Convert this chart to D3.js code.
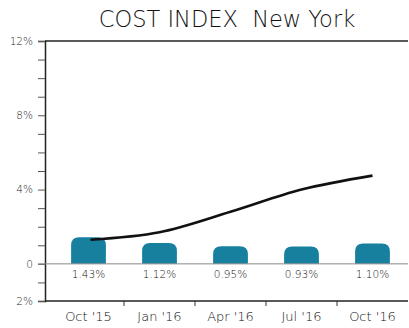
<!DOCTYPE html>
<html>
<head>
<meta charset="utf-8">
<script src="https://cdn.jsdelivr.net/npm/d3@7"></script>
<style>
  html, body { margin: 0; padding: 0; background: #fff; }
  svg { display: block; font-family: "DejaVu Sans", "Open Sans", sans-serif; }
  text { white-space: pre; }
</style>
</head>
<body>
<svg id="chart" width="409" height="328"></svg>
<script>
// Quarterly cost index for New York
const quarters = ["Oct '15", "Jan '16", "Apr '16", "Jul '16", "Oct '16"];
const quarterlyChange = [1.43, 1.12, 0.95, 0.93, 1.10];   // bars, %
const cumulativeIndex = [1.3, 1.7, 2.8, 4.0, 4.75];       // line, %
const yTickValues = [12, 8, 4, 0, -2];
const yTickLabels = ["12%", "8%", "4%", "0", "2%"];

const svg = d3.select("#chart");
const plotLeft = 45, plotRight = 408, plotTop = 41, plotBottom = 301;

const y = d3.scaleLinear().domain([-2, 12]).range([plotBottom, plotTop]);
const x = d3.scaleBand().domain(quarters).range([53, 408]).padding(0);
const barW = x.bandwidth() * 0.49;

// title
svg.append("text")
  .attr("x", 227).attr("y", 27)
  .attr("text-anchor", "middle")
  .attr("font-size", 22.5)
  .attr("font-weight", 200)
  .attr("fill", "#111")
  .text("COST INDEX  New York");

// top rule
svg.append("line").attr("x1", plotLeft).attr("x2", plotRight).attr("y1", y(12)).attr("y2", y(12))
  .attr("stroke", "#222").attr("stroke-width", 1.5);

// left axis with minor ticks every 1%
const yAxis = d3.axisLeft(y).tickValues(d3.range(-2, 13, 1)).tickSize(7).tickFormat("");
const ya = svg.append("g").attr("transform", `translate(${plotLeft},0)`).call(yAxis);
ya.select(".domain").attr("stroke", "#222").attr("stroke-width", 1.5);
ya.selectAll(".tick line").attr("stroke", "#555").attr("stroke-width", 1);

// y labels
svg.append("g").selectAll("text").data(yTickValues).join("text")
  .attr("x", 33).attr("y", d => y(d) + 3.8)
  .attr("text-anchor", "end")
  .attr("font-size", 10.5)
  .attr("font-weight", 200)
  .attr("fill", "#222")
  .text((d, i) => yTickLabels[i]);

// bottom axis with ticks between quarters
const xa = svg.append("g").attr("transform", `translate(0,${plotBottom})`);
xa.append("line").attr("x1", plotLeft).attr("x2", plotRight).attr("stroke", "#222").attr("stroke-width", 1.5);
xa.selectAll(".sep").data(quarters.slice(1)).join("line")
  .attr("class", "sep")
  .attr("x1", d => x(d)).attr("x2", d => x(d))
  .attr("y1", 0).attr("y2", 5)
  .attr("stroke", "#333");
xa.selectAll(".lbl").data(quarters).join("text")
  .attr("class", "lbl")
  .attr("x", d => x(d) + x.bandwidth() / 2)
  .attr("y", 20)
  .attr("text-anchor", "middle")
  .attr("font-size", 13)
  .attr("font-weight", 200)
  .attr("fill", "#111")
  .text(d => d);

// bars with rounded tops
const r = 8;
function barPath(d, i) {
  const cx = x(quarters[i]) + x.bandwidth() / 2;
  const x0 = cx - barW / 2, x1 = cx + barW / 2;
  const y0 = y(0), yt = y(d);
  const rr = Math.min(r, (y0 - yt));
  return `M${x0},${y0}V${yt + rr}Q${x0},${yt} ${x0 + rr},${yt}H${x1 - rr}Q${x1},${yt} ${x1},${yt + rr}V${y0}Z`;
}
svg.append("g").selectAll("path").data(quarterlyChange).join("path")
  .attr("d", barPath)
  .attr("fill", "#17809f");

// zero line
svg.append("line").attr("x1", 38).attr("x2", plotRight).attr("y1", y(0)).attr("y2", y(0))
  .attr("stroke", "#8a8a8a").attr("stroke-width", 1);

// value labels
svg.append("g").selectAll("text").data(quarterlyChange).join("text")
  .attr("x", (d, i) => x(quarters[i]) + x.bandwidth() / 2)
  .attr("y", y(0) + 14)
  .attr("text-anchor", "middle")
  .attr("font-size", 10.5)
  .attr("font-weight", 200)
  .attr("fill", "#111")
  .text(d => d.toFixed(2) + "%");

// cumulative line
const line = d3.line()
  .x((d, i) => x(quarters[i]) + x.bandwidth() / 2 + (i === 0 ? 2 : 0))
  .y(d => y(d))
  .curve(d3.curveMonotoneX);
svg.append("path").datum(cumulativeIndex)
  .attr("d", line)
  .attr("fill", "none")
  .attr("stroke", "#111")
  .attr("stroke-width", 2.6);
</script>
</body>
</html>
